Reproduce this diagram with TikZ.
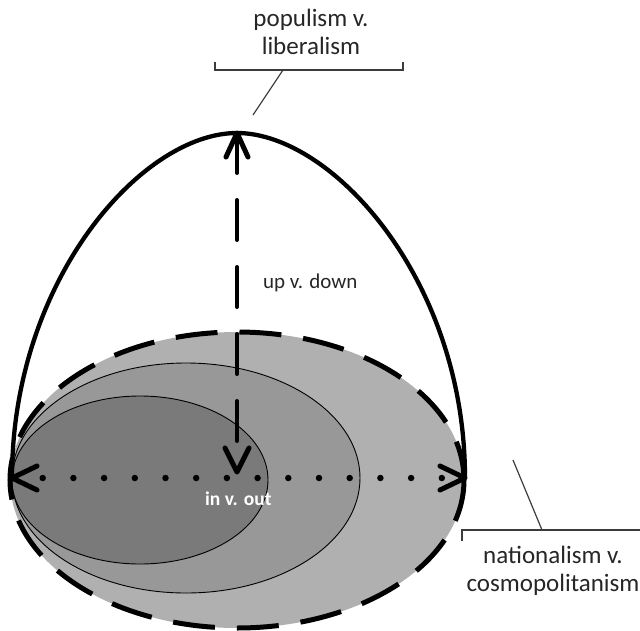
\documentclass[tikz,border=0pt]{standalone}
\usepackage{fontspec}
\setmainfont{Carlito}
\usetikzlibrary{calc}
\definecolor{lightfill}{RGB}{176,176,176}
\definecolor{midfill}{RGB}{152,152,152}
\definecolor{darkfill}{RGB}{122,122,122}
\definecolor{leader}{RGB}{60,60,60}
\begin{document}
\begin{tikzpicture}[x=1pt,y=-1pt,
  dome/.style={line width=4.3pt},
  bigring/.style={line width=5pt, dash pattern=on 42pt off 22pt},
  thinring/.style={line width=0.9pt, draw=black},
  vaxis/.style={line width=4pt, line cap=round, dash pattern=on 40pt off 27pt},
  haxis/.style={line width=6.5pt, line cap=round, dash pattern=on 0pt off 30.7pt},
  head/.style={line width=5pt, line cap=round, line join=round},
  bracket/.style={line width=1.2pt, draw=leader},
  lbl/.style={font=\fontsize{25}{27.5}\selectfont, text=black!85, align=center, inner sep=0pt}
]
\useasboundingbox (0,0) rectangle (640,630);

% filled regions
\fill[lightfill] (237,480) ellipse [x radius=227, y radius=148];
\filldraw[fill=midfill, thinring] (186,478) ellipse [x radius=174, y radius=115];
\filldraw[fill=darkfill, thinring] (140,480) ellipse [x radius=128, y radius=84];
\draw[bigring] (237,480) ellipse [x radius=227, y radius=148];

% coordinates
\coordinate (hl) at (12,478);
\coordinate (hr) at (465,478);
\coordinate (vt) at (237,133);
\coordinate (vb) at (237,472);

% dome
\draw[dome] (hl) .. controls (12,280) and (142,133) .. (vt)
               .. controls (332,133) and (465,280) .. (hr);

% vertical axis
\draw[vaxis] (vt) -- (vb);
\draw[head] ($(vt)+(-11,24)$) -- (vt) -- ($(vt)+(11,24)$);
\draw[head] ($(vb)+(-12,-24)$) -- (vb) -- ($(vb)+(12,-24)$);

% horizontal axis
\draw[haxis] (hl) -- (hr);
\draw[head] ($(hl)+(25,-12)$) -- (hl) -- ($(hl)+(25,12)$);
\draw[head] ($(hr)+(-25,-12)$) -- (hr) -- ($(hr)+(-25,12)$);

% labels
\node[lbl] (pop) at (311,32) {populism v.\\liberalism};
\node[lbl] (nat) at (553,571) {nationalism v.\\cosmopolitanism};
\node[font=\fontsize{21}{24}\selectfont, text=black!85, inner sep=0pt, anchor=base west] (ud) at (263,288) {up v. down};
\node[font=\bfseries\fontsize{19.5}{22}\selectfont, text=white, inner sep=0pt, anchor=base west] (io) at (205,505) {in v. out};

% brackets
\coordinate (ta) at (215,62);
\coordinate (tb) at (215,70);
\coordinate (tc) at (403,70);
\coordinate (td) at (403,62);
\coordinate (tl1) at (283,70);
\coordinate (tl2) at (253,115);
\draw[bracket] (ta) -- (tb) -- (tc) -- (td);
\draw[bracket] (tl1) -- (tl2);

\coordinate (ba) at (462,541);
\coordinate (bb) at (462,530);
\coordinate (bc) at (645,530);
\coordinate (bl1) at (542,530);
\coordinate (bl2) at (513,460);
\draw[bracket] (ba) -- (bb) -- (bc);
\draw[bracket] (bl1) -- (bl2);
\end{tikzpicture}
\end{document}
